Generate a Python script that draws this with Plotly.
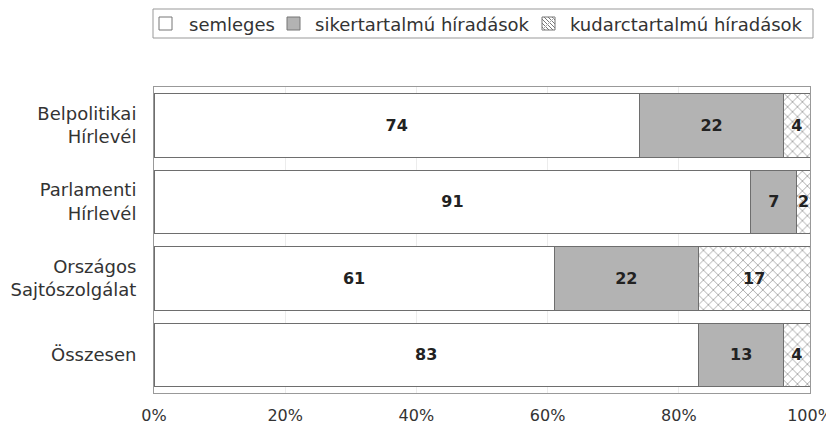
import plotly.graph_objects as go

categories = ["Belpolitikai<br>Hírlevél", "Parlamenti<br>Hírlevél", "Országos<br>Sajtószolgálat", "Összesen"]
semleges = [74, 91, 61, 83]
siker = [22, 7, 22, 13]
kudarc = [4, 2, 17, 4]
series_names = ["semleges", "sikertartalmú híradások", "kudarctartalmú híradások"]
tick_vals = [0, 20, 40, 60, 80, 100]
tick_text = ["0%", "20%", "40%", "60%", "80%", "100%"]

FONT = "DejaVu Sans"
fig = go.Figure()
line = dict(color="#6e6e6e", width=1)
fig.add_trace(go.Bar(y=categories, x=semleges, name=series_names[0], orientation="h",
                     marker=dict(color="white", line=line),
                     text=semleges, textposition="inside", insidetextanchor="middle"))
fig.add_trace(go.Bar(y=categories, x=siker, name=series_names[1], orientation="h",
                     marker=dict(color="#b3b3b3", line=line),
                     text=siker, textposition="inside", insidetextanchor="middle"))
fig.add_trace(go.Bar(y=categories, x=kudarc, name=series_names[2], orientation="h",
                     marker=dict(color="white", line=line,
                                 pattern=dict(shape="x", fgcolor="#555555", bgcolor="white",
                                              size=7, solidity=0.25)),
                     text=kudarc, textposition="inside", insidetextanchor="middle"))

fig.update_traces(textfont=dict(family=FONT, size=16, color="#222", weight="bold"),
                  textangle=0, cliponaxis=False)

# ---- manual legend (pixel offsets from the plot's top-left corner) ----
def px_rect(x0, y0, x1, y1, **kw):
    return dict(type="rect", xref="paper", yref="paper", xsizemode="pixel", ysizemode="pixel",
                xanchor=0, yanchor=1, x0=x0, x1=x1, y0=-y0, y1=-y1, **kw)

shapes = []
# legend box
shapes.append(px_rect(-1, -78, 659, -49, line=dict(color="#999", width=1), fillcolor="white", layer="below"))
sym_x = [5, 133, 388]
text_x = [33, 159, 414]
sym_fill = ["white", "#b3b3b3", "white"]
for sx, fc in zip(sym_x, sym_fill):
    shapes.append(px_rect(sx, -70, sx + 13, -57, line=dict(color="#777", width=1), fillcolor=fc))
# hatch lines in third symbol
hx = sym_x[2]
path = ""
for k in range(-10, 14, 4):
    xa, ya = hx + k, 70
    xb, yb = hx + k + 13, 57
    if xa < hx:
        ya -= (hx - xa); xa = hx
    if xb > hx + 13:
        yb += (xb - hx - 13); xb = hx + 13
    if xa < xb:
        path += f"M{xa},{ya}L{xb},{yb}"
shapes.append(dict(type="path", xref="paper", yref="paper", xsizemode="pixel", ysizemode="pixel",
                   xanchor=0, yanchor=1, path=path, line=dict(color="#777", width=1)))
shapes.append(dict(type="path", xref="paper", yref="paper", xsizemode="pixel", ysizemode="pixel",
                   xanchor=0, yanchor=1, path=f"M{hx},57L{hx+13},70", line=dict(color="#aaa", width=1)))

annotations = []
for tx, name in zip(text_x, series_names):
    annotations.append(dict(text=name, xref="paper", yref="paper", x=0, y=1, xanchor="left",
                            yanchor="middle", xshift=tx, yshift=63, showarrow=False,
                            font=dict(family=FONT, size=18, color="#333")))

# the page body has an 8px margin, so the figure is 8px smaller and margins shifted
fig.update_layout(
    barmode="stack",
    bargap=0.17,
    width=826, height=418,
    margin=dict(l=146, r=24, t=79, b=33),
    paper_bgcolor="white", plot_bgcolor="white",
    font=dict(family=FONT, size=18, color="#333"),
    uniformtext=dict(minsize=16, mode="show"),
    showlegend=False,
    shapes=shapes,
    annotations=annotations,
)
fig.update_xaxes(range=[0, 100], tickvals=tick_vals, ticktext=tick_text,
                 showgrid=True, gridcolor="#ececec", gridwidth=1, automargin=False,
                 showline=True, linecolor="#999", mirror=True, zeroline=False,
                 ticklabeloverflow="allow", ticklabelstandoff=8,
                 ticks="", tickfont=dict(family=FONT, size=16, color="#333"))
fig.update_yaxes(autorange="reversed", showline=True, linecolor="#999", mirror=True,
                 automargin=False, ticklabeloverflow="allow",
                 ticks="", ticklabelstandoff=13, tickfont=dict(family=FONT, size=18, color="#333"))

fig.write_html("out.html")
